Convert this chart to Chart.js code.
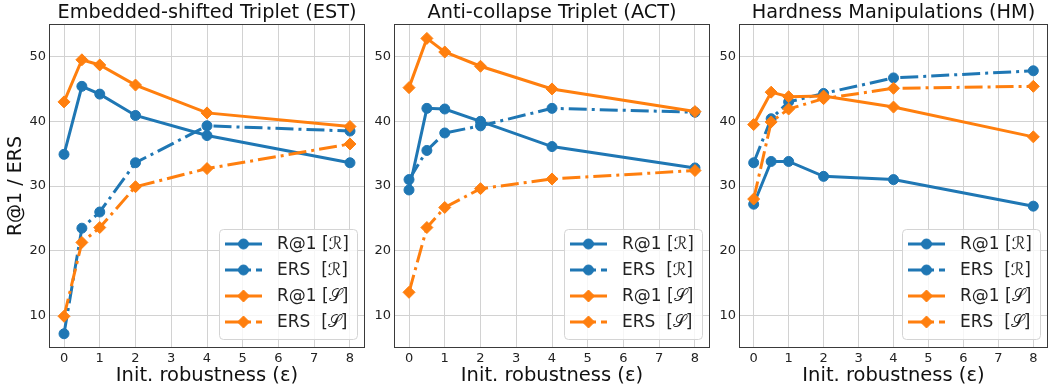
<!DOCTYPE html>
<html>
<head>
<meta charset="utf-8">
<script src="https://cdn.jsdelivr.net/npm/chart.js@4"></script>
<style>
  html, body { margin: 0; padding: 0; background: #fff; }
  #wrap { position: relative; width: 1055px; height: 389px; }
  .panel { position: absolute; top: 0; height: 389px; }
</style>
</head>
<body>
<div id="wrap">
  <div class="panel" style="left:0px;width:372px"><canvas id="estChart" width="372" height="389"></canvas></div>
  <div class="panel" style="left:372px;width:345px"><canvas id="actChart" width="345" height="389"></canvas></div>
  <div class="panel" style="left:717px;width:338px"><canvas id="hmChart" width="338" height="389"></canvas></div>
</div>
<script>
// x positions (init. robustness epsilon)
var epsValues = [0, 0.5, 1, 2, 4, 8];
var xTickLabels = [0, 1, 2, 3, 4, 5, 6, 7, 8];
var yTickLabels = [10, 20, 30, 40, 50];

var seriesLabels = ['R@1 [\u211B]', 'ERS  [\u211B]', 'R@1 [\uD835\uDCAE]', 'ERS  [\uD835\uDCAE]'];
var panelTitles = ['Embedded-shifted Triplet (EST)', 'Anti-collapse Triplet (ACT)', 'Hardness Manipulations (HM)'];

// Embedded-shifted Triplet
var estR1R = [34.9, 45.4, 44.2, 40.9, 37.8, 33.6];
var estErsR = [7.2, 23.5, 26.0, 33.6, 39.3, 38.5];
var estR1S = [43.0, 49.5, 48.7, 45.6, 41.3, 39.2];
var estErsS = [9.9, 21.3, 23.6, 29.9, 32.7, 36.5];

// Anti-collapse Triplet
var actR1R = [29.4, 42.0, 41.9, 40.0, 36.1, 32.8];
var actErsR = [31.0, 35.5, 38.2, 39.3, 42.0, 41.4];
var actR1S = [45.2, 52.8, 50.7, 48.5, 45.0, 41.5];
var actErsS = [13.6, 23.6, 26.7, 29.6, 31.1, 32.4];

// Hardness Manipulations
var hmR1R = [27.2, 33.8, 33.8, 31.5, 31.0, 26.9];
var hmErsR = [33.6, 40.4, 43.0, 44.3, 46.7, 47.8];
var hmR1S = [39.5, 44.5, 43.8, 43.9, 42.2, 37.6];
var hmErsS = [28.0, 39.9, 41.9, 43.5, 45.1, 45.4];

var BLUE = '#1f77b4';
var ORANGE = '#ff7f0e';
var DASHDOT = [18, 5, 3, 5];
var FONT = "'DejaVu Sans', sans-serif";

Chart.defaults.font.family = FONT;
Chart.defaults.color = '#222';

function toPoints(vals) {
    return vals.map(function (v, i) { return { x: epsValues[i], y: v }; });
}

function makeDataset(label, vals, color, dashed, diamond, order) {
    return {
        label: label,
        data: toPoints(vals),
        borderColor: color,
        backgroundColor: color,
        borderWidth: 3,
        borderDash: dashed ? DASHDOT : [],
        borderCapStyle: 'butt',
        pointStyle: diamond ? 'rectRot' : 'circle',
        pointRadius: diamond ? 6 : 5,
        pointBorderWidth: 1,
        pointBorderColor: color,
        pointBackgroundColor: color,
        tension: 0,
        order: order
    };
}

// frame around the axes + matplotlib style legend in the lower right
var framePlugin = {
    id: 'frameAndLegend',
    afterDatasetsDraw: function (chart) {
        var ctx = chart.ctx;
        var a = chart.chartArea;
        ctx.save();
        ctx.strokeStyle = '#3a3a3a';
        ctx.lineWidth = 1;
        ctx.strokeRect(Math.round(a.left) + 0.5, Math.round(a.top) + 0.5,
            Math.round(a.right - a.left) - 1, Math.round(a.bottom - a.top) - 1);

        // legend box
        var bw = 138, bh = 110;
        var bx = Math.round(a.right) - 8 - bw, by = Math.round(a.bottom) - 9 - bh;
        ctx.beginPath();
        if (ctx.roundRect) ctx.roundRect(bx + 0.5, by + 0.5, bw, bh, 4);
        else ctx.rect(bx + 0.5, by + 0.5, bw, bh);
        ctx.fillStyle = 'rgba(255,255,255,0.8)';
        ctx.fill();
        ctx.strokeStyle = '#d4d4d4';
        ctx.stroke();

        chart.data.datasets.forEach(function (ds, i) {
            var cy = by + 15 + i * 26;
            var mx = bx + 24.5;
            ctx.save();
            ctx.strokeStyle = ds.borderColor;
            ctx.lineWidth = ds.borderWidth;
            ctx.lineCap = 'butt';
            ctx.setLineDash(ds.borderDash);
            ctx.beginPath();
            ctx.moveTo(bx + 6, cy);
            ctx.lineTo(bx + 43, cy);
            ctx.stroke();
            ctx.setLineDash([]);
            ctx.fillStyle = ds.pointBackgroundColor;
            ctx.strokeStyle = ds.pointBorderColor;
            ctx.lineWidth = 1;
            ctx.beginPath();
            if (ds.pointStyle === 'circle') {
                ctx.arc(mx, cy, ds.pointRadius, 0, Math.PI * 2);
            } else {
                var r = ds.pointRadius;
                ctx.moveTo(mx, cy - r);
                ctx.lineTo(mx + r, cy);
                ctx.lineTo(mx, cy + r);
                ctx.lineTo(mx - r, cy);
                ctx.closePath();
            }
            ctx.fill();
            ctx.stroke();
            ctx.fillStyle = '#222';
            ctx.font = '17px ' + FONT;
            ctx.textBaseline = 'middle';
            ctx.textAlign = 'left';
            ctx.fillText(ds.label, bx + 58, cy + 1);
            ctx.restore();
        });
        ctx.restore();
    }
};

function buildPanel(canvasId, title, series, yAxisWidth, padRight, showYTitle) {
    var ctx = document.getElementById(canvasId).getContext('2d');
    return new Chart(ctx, {
        type: 'line',
        data: {
            datasets: [
                makeDataset(seriesLabels[0], series[0], BLUE, false, false, 4),
                makeDataset(seriesLabels[1], series[1], BLUE, true, false, 3),
                makeDataset(seriesLabels[2], series[2], ORANGE, false, true, 2),
                makeDataset(seriesLabels[3], series[3], ORANGE, true, true, 1)
            ]
        },
        options: {
            responsive: false,
            animation: false,
            layout: { padding: { left: 0, right: padRight, top: 0, bottom: 0 } },
            plugins: {
                legend: { display: false },
                tooltip: { enabled: false },
                title: {
                    display: true,
                    text: title,
                    fullSize: false,
                    color: '#111',
                    font: { size: 19.3, weight: 'normal' },
                    padding: { top: 1, bottom: 0 }
                }
            },
            scales: {
                x: {
                    type: 'linear',
                    min: -0.42,
                    max: 8.42,
                    afterBuildTicks: function (scale) {
                        scale.ticks = xTickLabels.map(function (v) { return { value: v }; });
                    },
                    afterFit: function (scale) { scale.height = 41; },
                    grid: { color: '#d2d2d2', lineWidth: 1, drawTicks: false },
                    border: { display: false },
                    ticks: { padding: 3, font: { size: 13 }, color: '#222', maxRotation: 0 },
                    title: {
                        display: true,
                        text: 'Init. robustness (\u03B5)',
                        color: '#111',
                        font: { size: 19.5 },
                        padding: { top: 0, bottom: 1 }
                    }
                },
                y: {
                    type: 'linear',
                    min: 5,
                    max: 55,
                    afterBuildTicks: function (scale) {
                        scale.ticks = yTickLabels.map(function (v) { return { value: v }; });
                    },
                    afterFit: function (scale) { scale.width = yAxisWidth; },
                    grid: { color: '#d2d2d2', lineWidth: 1, drawTicks: false },
                    border: { display: false },
                    ticks: { padding: 3, font: { size: 13 }, color: '#222' },
                    title: {
                        display: showYTitle,
                        text: 'R@1 / ERS',
                        color: '#111',
                        font: { size: 19 },
                        padding: { top: 5, bottom: 0 }
                    }
                }
            }
        },
        plugins: [framePlugin]
    });
}

buildPanel('estChart', panelTitles[0], [estR1R, estErsR, estR1S, estErsS], 49, 4, true);
buildPanel('actChart', panelTitles[1], [actR1R, actErsR, actR1S, actErsS], 22, 4, false);
buildPanel('hmChart', panelTitles[2], [hmR1R, hmErsR, hmR1S, hmErsS], 22, 1, false);
</script>
</body>
</html>
